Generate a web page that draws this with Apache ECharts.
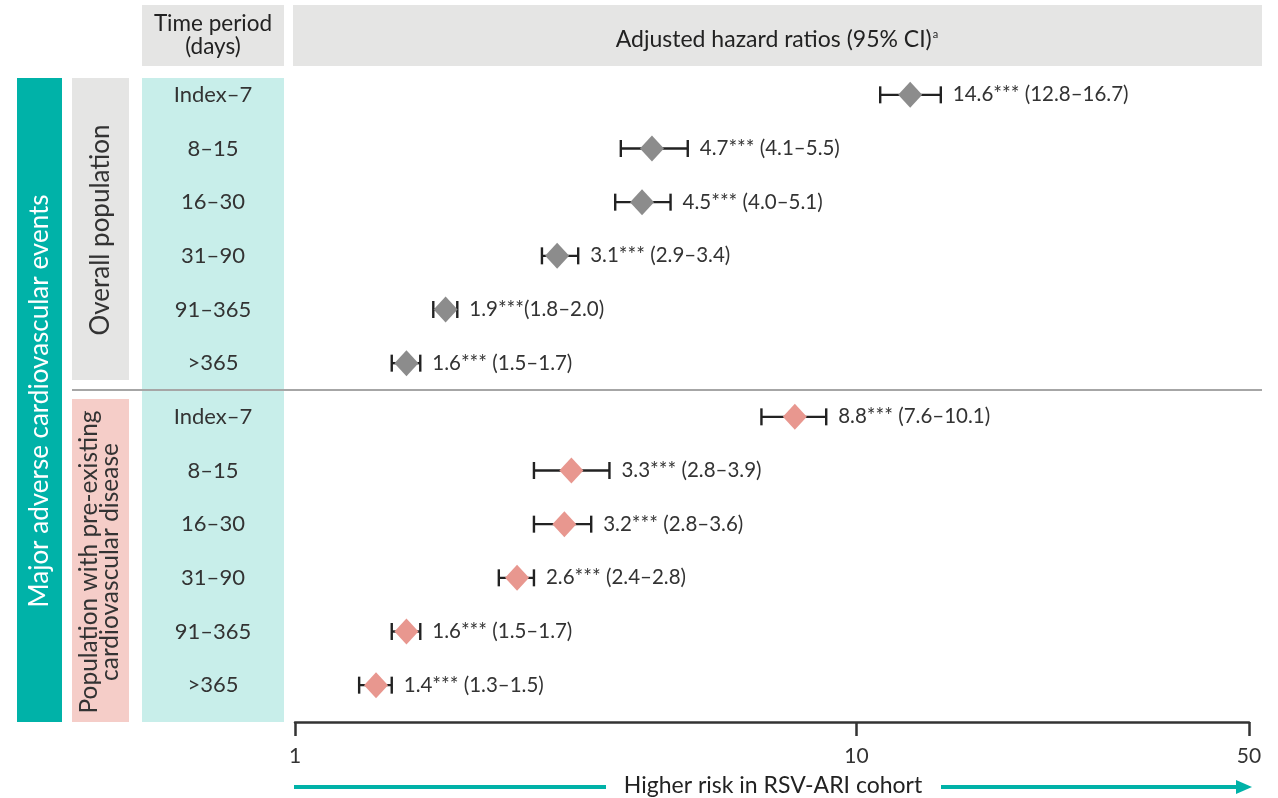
<!DOCTYPE html>
<html><head><meta charset="utf-8">
<script src="https://cdn.jsdelivr.net/npm/echarts@6/dist/echarts.min.js"></script>
<style>html,body{margin:0;padding:0;background:#fff}#c{width:1278px;height:798px}</style>
</head><body><div id="c"></div>
<script>
// ---- data ----
const periods = ['Index–7', '8–15', '16–30', '31–90', '91–365', '>365'];
const overallHR = [14.6, 4.7, 4.5, 3.1, 1.9, 1.6];
const overallLo = [12.8, 4.1, 4.0, 2.9, 1.8, 1.5];
const overallHi = [16.7, 5.5, 5.1, 3.4, 2.0, 1.7];
const preHR = [8.8, 3.3, 3.2, 2.6, 1.6, 1.4];
const preLo = [7.6, 2.8, 2.8, 2.4, 1.5, 1.3];
const preHi = [10.1, 3.9, 3.6, 2.8, 1.7, 1.5];
const axisTickValues = [1, 10, 50];
const signif = '***';

// ---- build ----
const FONT = 'Lato, "Open Sans", sans-serif';
const TEAL = '#00b2a8';
const categories = periods.concat(periods);
const fmt = v => v.toFixed(1);
const ciRows = [];
overallHR.forEach((v, i) => ciRows.push([overallLo[i], overallHi[i], i, v]));
preHR.forEach((v, i) => ciRows.push([preLo[i], preHi[i], i + periods.length, v]));
const overallPts = overallHR.map((v, i) => [v, i]);
const prePts = preHR.map((v, i) => [v, i + periods.length]);

const chart = echarts.init(document.getElementById('c'), null, {renderer: 'canvas'});
chart.setOption({
  animation: false,
  backgroundColor: '#ffffff',
  textStyle: {fontFamily: FONT},
  grid: {left: 295, right: 29, top: 68, bottom: 86, containLabel: false},
  xAxis: [
    {
      type: 'log', logBase: 10, min: 1, max: 50, position: 'bottom', offset: 10,
      axisLine: {show: true, lineStyle: {color: '#333', width: 2.5}},
      axisTick: {show: true, customValues: axisTickValues, length: 14, lineStyle: {color: '#333', width: 2.5}},
      axisLabel: {show: true, customValues: axisTickValues, margin: 24, fontSize: 21, color: '#333', fontFamily: FONT,
        formatter: v => String(Math.round(v))},
      splitLine: {show: false}, minorTick: {show: false}
    },
    {
      type: 'log', logBase: 10, min: 0.981, max: 64.6, show: false, position: 'top',
      splitLine: {show: false}
    }
  ],
  yAxis: {
    type: 'category', data: categories, inverse: true, z: 10,
    axisLine: {show: false}, axisTick: {show: false}, splitLine: {show: false},
    axisLabel: {margin: 82, align: 'center', fontSize: 22, color: '#333', fontFamily: FONT,
      formatter: (v, i) => categories[i]}
  },
  series: [
    {
      type: 'custom', xAxisIndex: 1, z: 2,
      encode: {x: [0, 1], y: 2},
      data: ciRows,
      renderItem: function (params, api) {
        const lo = api.coord([api.value(0), api.value(2)]);
        const hi = api.coord([api.value(1), api.value(2)]);
        const hr = api.value(3);
        const cap = 8.5;
        const st = {stroke: '#222', lineWidth: 2.4};
        const sep = hr === 1.9 && api.value(2) === 4 ? '' : ' ';
        return {
          type: 'group',
          children: [
            {type: 'line', shape: {x1: lo[0], y1: lo[1], x2: hi[0], y2: hi[1]}, style: st},
            {type: 'line', shape: {x1: lo[0], y1: lo[1] - cap, x2: lo[0], y2: lo[1] + cap}, style: st},
            {type: 'line', shape: {x1: hi[0], y1: hi[1] - cap, x2: hi[0], y2: hi[1] + cap}, style: st},
            {type: 'text', x: hi[0] + 12, y: hi[1],
              style: {text: fmt(hr) + signif + sep + '(' + fmt(api.value(0)) + '–' + fmt(api.value(1)) + ')',
                fill: '#333', fontSize: 20.5, fontFamily: FONT, align: 'left', verticalAlign: 'middle'}}
          ]
        };
      }
    },
    {
      type: 'scatter', xAxisIndex: 1, z: 5, symbol: 'diamond', symbolSize: [24, 26],
      itemStyle: {color: '#8c8c8c', opacity: 1}, data: overallPts
    },
    {
      type: 'scatter', xAxisIndex: 1, z: 5, symbol: 'diamond', symbolSize: [24, 26],
      itemStyle: {color: '#e8978f', opacity: 1}, data: prePts
    }
  ],
  graphic: {elements: [
    {type: 'rect', z: -5, shape: {x: 142, y: 5, width: 142, height: 61}, style: {fill: '#e5e5e4'}},
    {type: 'rect', z: -5, shape: {x: 293, y: 5, width: 969, height: 61}, style: {fill: '#e5e5e4'}},
    {type: 'text', z: 5, x: 213, y: 35, style: {text: 'Time period\n(days)', fontSize: 22.5, lineHeight: 23,
      fill: '#222', fontFamily: FONT, align: 'center', verticalAlign: 'middle'}},
    {type: 'text', z: 5, x: 777, y: 40, style: {text: 'Adjusted hazard ratios (95% CI){sup|a}', fontSize: 23,
      fill: '#222', fontFamily: FONT, align: 'center', verticalAlign: 'middle',
      rich: {sup: {fontSize: 11, fill: '#222', fontFamily: FONT, verticalAlign: 'top', padding: [0, 0, 10, 1]}}}},
    {type: 'rect', z: -5, shape: {x: 17, y: 78, width: 45, height: 644}, style: {fill: TEAL}},
    {type: 'rect', z: -5, shape: {x: 72, y: 78, width: 57, height: 302}, style: {fill: '#e5e5e4'}},
    {type: 'rect', z: -5, shape: {x: 72, y: 399, width: 57, height: 323}, style: {fill: '#f5cdc8'}},
    {type: 'rect', z: -5, shape: {x: 142, y: 78, width: 142, height: 644}, style: {fill: '#c8eeea'}},
    {type: 'line', z: -4, shape: {x1: 72, y1: 390, x2: 1262, y2: 390}, style: {stroke: '#a6a6a6', lineWidth: 2}},
    {type: 'text', z: 5, x: 40, y: 401, rotation: Math.PI / 2,
      style: {text: 'Major adverse cardiovascular events', fontSize: 26, fill: '#ffffff', fontFamily: FONT,
        align: 'center', verticalAlign: 'middle'}},
    {type: 'text', z: 5, x: 101, y: 230, rotation: Math.PI / 2,
      style: {text: 'Overall population', fontSize: 26, fill: '#333', fontFamily: FONT,
        align: 'center', verticalAlign: 'middle'}},
    {type: 'text', z: 5, x: 100, y: 562, rotation: Math.PI / 2,
      style: {text: 'Population with pre-existing\ncardiovascular disease', fontSize: 24.5, lineHeight: 21,
        fill: '#333', fontFamily: FONT, align: 'center', verticalAlign: 'middle'}},
    {type: 'line', z: 5, shape: {x1: 294, y1: 787, x2: 606, y2: 787}, style: {stroke: TEAL, lineWidth: 4}},
    {type: 'line', z: 5, shape: {x1: 941, y1: 787, x2: 1240, y2: 787}, style: {stroke: TEAL, lineWidth: 4}},
    {type: 'polygon', z: 5, shape: {points: [[1236, 780], [1252, 787], [1236, 794]]}, style: {fill: TEAL}},
    {type: 'text', z: 5, x: 773, y: 786, style: {text: 'Higher risk in RSV-ARI cohort', fontSize: 23,
      fill: '#222', fontFamily: FONT, align: 'center', verticalAlign: 'middle'}}
  ]}
});
</script>
</body></html>
